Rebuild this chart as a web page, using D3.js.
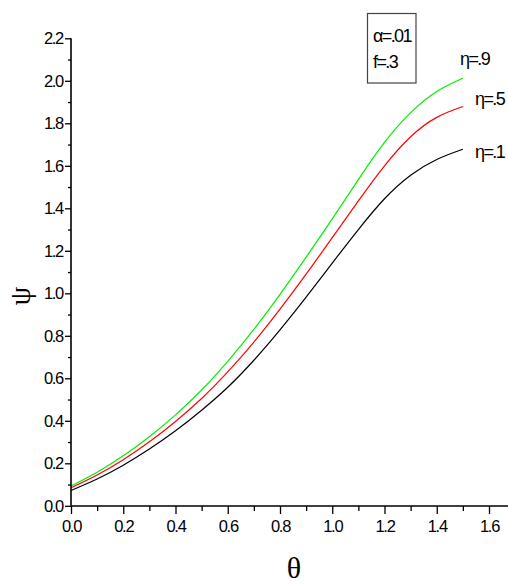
<!DOCTYPE html>
<html>
<head>
<meta charset="utf-8">
<script src="https://cdn.jsdelivr.net/npm/d3@7/dist/d3.min.js"></script>
<style>
html,body{margin:0;padding:0;background:#fff;}
svg{display:block;}
</style>
</head>
<body>
<svg id="chart" width="508" height="587"></svg>
<script>
// ---- data ----
const theta = [0,0.1,0.2,0.3,0.4,0.5,0.6,0.7,0.8,0.9,1.0,1.1,1.2,1.3,1.4,1.5];
const psiEta9 = [0.093,0.158,0.235,0.325,0.428,0.545,0.68,0.83,0.995,1.17,1.35,1.535,1.71,1.85,1.95,2.012];
const psiEta5 = [0.085,0.145,0.217,0.301,0.397,0.505,0.63,0.77,0.925,1.09,1.262,1.435,1.60,1.737,1.828,1.879];
const psiEta1 = [0.072,0.126,0.191,0.267,0.353,0.45,0.558,0.685,0.828,0.982,1.142,1.30,1.445,1.556,1.63,1.678];
const seriesNames = ["η=.9","η=.5","η=.1"];
const seriesColors = ["#00ee00","#ff0000","#000000"];
const xTickValues = [0,0.2,0.4,0.6,0.8,1.0,1.2,1.4,1.6];
const xTickLabels = ["0.0","0.2","0.4","0.6","0.8","1.0","1.2","1.4","1.6"];
const yTickValues = [0,0.2,0.4,0.6,0.8,1.0,1.2,1.4,1.6,1.8,2.0,2.2];
const yTickLabels = ["0.0","0.2","0.4","0.6","0.8","1.0","1.2","1.4","1.6","1.8","2.0","2.2"];
const legendLines = ["α=.01","f=.3"];

const SANS = "'Liberation Sans', Arial, sans-serif";
const SERIF = "'Liberation Serif', 'Times New Roman', serif";

// ---- layout ----
const svg = d3.select("#chart");
const x = d3.scaleLinear().domain([0,1.7]).range([71, 71+1.7*261.25]);
const y = d3.scaleLinear().domain([0,2.2]).range([505.8, 38.3]);

// curves
const seriesData = [psiEta9, psiEta5, psiEta1];
const line = d3.line().x((d,i)=>x(theta[i])).y(d=>y(d)).curve(d3.curveNatural);
seriesData.forEach((s,k)=>{
  svg.append("path").attr("d", line(s)).attr("fill","none")
    .attr("stroke", seriesColors[k]).attr("stroke-width",1.2);
});

// axes
const fmtX = d => xTickLabels[xTickValues.findIndex(v=>Math.abs(v-d)<1e-9)] || "";
const fmtY = d => yTickLabels[yTickValues.findIndex(v=>Math.abs(v-d)<1e-9)] || "";

const xAxis = svg.append("g").attr("transform","translate(0,506)")
  .call(d3.axisBottom(x).tickValues(xTickValues).tickFormat(fmtX).tickSize(8).tickPadding(6));
const xMinor = svg.append("g").attr("transform","translate(0,506)")
  .call(d3.axisBottom(x).tickValues(d3.range(0.1,1.7,0.2)).tickFormat("").tickSize(5));
const yAxis = svg.append("g").attr("transform","translate(71,0)")
  .call(d3.axisLeft(y).tickValues(yTickValues).tickFormat(fmtY).tickSize(6).tickPadding(2));
const yMinor = svg.append("g").attr("transform","translate(71,0)")
  .call(d3.axisLeft(y).tickValues(d3.range(0.1,2.2,0.2)).tickFormat("").tickSize(3));

[xAxis,xMinor,yAxis,yMinor].forEach(g=>{
  g.select(".domain").attr("stroke","#000").attr("stroke-width",1.6);
  g.selectAll(".tick line").attr("stroke","#000").attr("stroke-width",1.3);
});
[xMinor,yMinor].forEach(g=>g.select(".domain").remove());
xAxis.select(".domain").attr("d", `M${x(0)},0H${x(1.7)}`);
yAxis.select(".domain").attr("d", `M0,${y(0)}V${y(2.2)}`);
[xAxis,yAxis].forEach(g=>{
  g.selectAll(".tick text").style("font-size","16.5px").style("letter-spacing","-1.3px")
    .style("font-family",SANS).attr("fill","#000");
});

// axis titles
svg.append("text").text("θ").attr("x",294).attr("y",578).attr("text-anchor","middle")
  .style("font-family",SERIF).style("font-size","30px");
svg.append("text").text("ψ").attr("transform","translate(30,296) rotate(-90)")
  .attr("text-anchor","middle")
  .style("font-family",SERIF).style("font-size","30px");

// legend box
svg.append("rect").attr("x",367.5).attr("y",13.5).attr("width",48.5).attr("height",69.5)
  .attr("fill","none").attr("stroke","#444").attr("stroke-width",1.2);
legendLines.forEach((t,i)=>{
  svg.append("text").text(t).attr("x",373).attr("y",i===0?42.3:68.3)
    .style("font-family",SANS).style("font-size","18px").style("letter-spacing","-1.6px");
});

// curve labels
const labelPos = [[460,65],[475,105],[475,158]];
seriesNames.forEach((n,k)=>{
  svg.append("text").text(n).attr("x",labelPos[k][0]).attr("y",labelPos[k][1])
    .style("font-family",SANS).style("font-size","18px").style("letter-spacing","-1.6px");
});
</script>
</body>
</html>
